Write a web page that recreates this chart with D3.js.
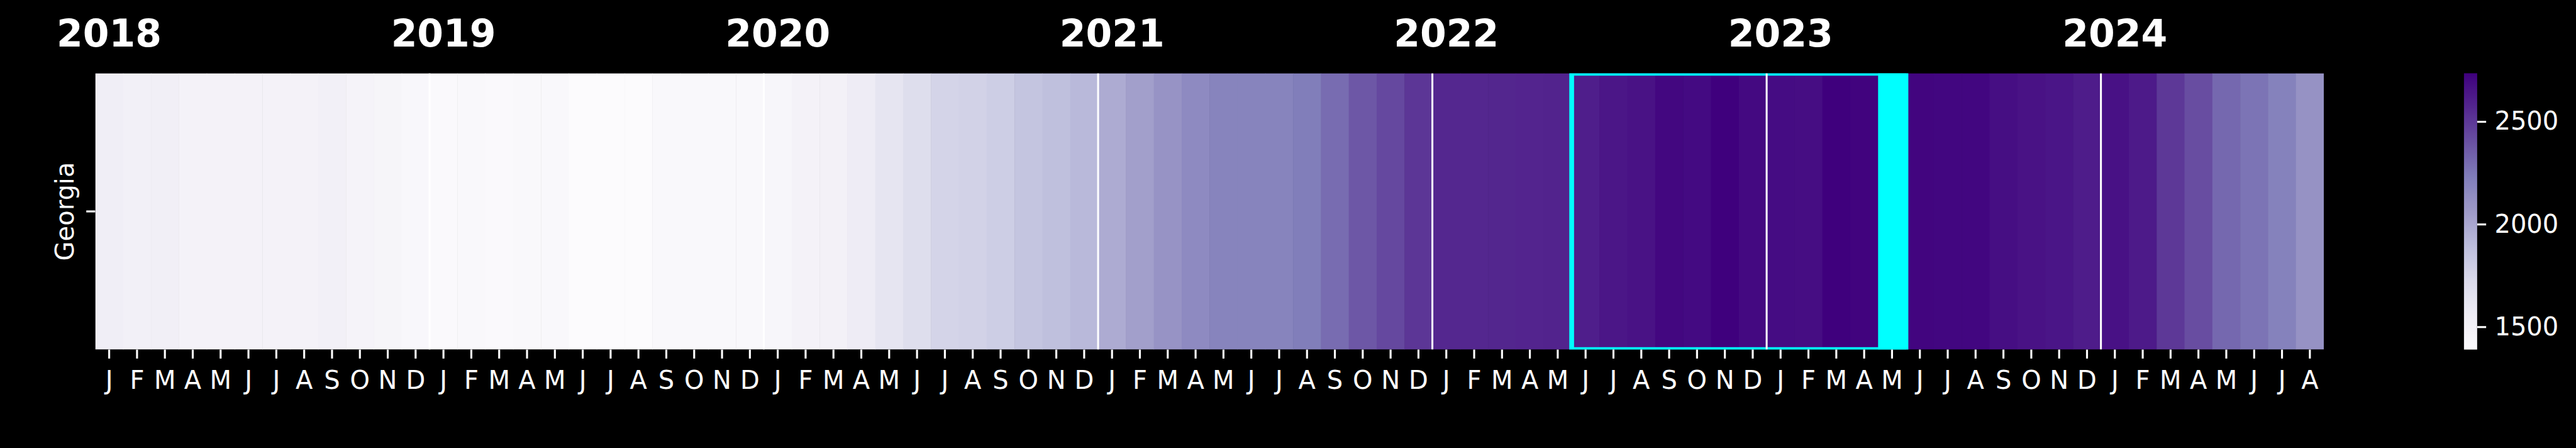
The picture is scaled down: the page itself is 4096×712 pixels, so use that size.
<!DOCTYPE html>
<html>
<head>
<meta charset="utf-8">
<script src="https://cdn.jsdelivr.net/npm/d3@7"></script>
<style>
  html, body { margin: 0; padding: 0; background: #000; }
  svg { display: block; }
  text { font-family: "DejaVu Sans", sans-serif; fill: #fff; }
</style>
</head>
<body>
<script>
// ---------- data ----------
const rowLabels = ["Georgia"];
const years = ["2018", "2019", "2020", "2021", "2022", "2023", "2024"];
const monthLetters = ["J","F","M","A","M","J","J","A","S","O","N","D"];
// monthly values Jan 2018 .. Aug 2024 (80 months); null = missing (May 2023)
const values2018 = [1544, 1518, 1531, 1493, 1493, 1493, 1493, 1493, 1518, 1483, 1467, 1441];
const values2019 = [1415, 1428, 1415, 1428, 1428, 1392, 1389, 1395, 1428, 1428, 1428, 1428];
const values2020 = [1454, 1493, 1505, 1565, 1630, 1693, 1759, 1770, 1798, 1848, 1877, 1911];
const values2021 = [1978, 2039, 2101, 2152, 2190, 2190, 2190, 2225, 2295, 2376, 2435, 2506];
const values2022 = [2565, 2568, 2572, 2578, 2584, 2606, 2641, 2657, 2704, 2692, 2735, 2697];
const values2023 = [2683, 2680, 2735, 2722, null, 2712, 2710, 2710, 2675, 2657, 2645, 2614];
const values2024 = [2660, 2623, 2499, 2415, 2311, 2264, 2202, 2107];
const colorTicks = [1500, 2000, 2500];
const vmin = 1389, vmax = 2735;
const highlightStart = 53, highlightEnd = 64; // Jun 2022 .. May 2023 (column indices)
const purples = ["#fcfbfd","#efedf5","#dadaeb","#bcbddc","#9e9ac8","#807dba","#6a51a3","#54278f","#3f007d"];

const values = [].concat(values2018, values2019, values2020, values2021, values2022, values2023, values2024);
const cells = values.map((v, i) => ({ i, v, year: 2018 + Math.floor(i / 12), m: i % 12 }));

// ---------- layout (reference pixel space 4300x747) ----------
const W = 4300, H = 747;
const L = 159, R = 3879, T = 122, B = 583;

const svg = d3.select("body").append("svg")
  .attr("width", 4096).attr("height", 712)
  .attr("viewBox", `0 0 ${W} ${H}`);

svg.append("rect").attr("width", W).attr("height", H).attr("fill", "#000");

const x = d3.scaleBand().domain(d3.range(values.length)).range([L, R]).paddingInner(0).paddingOuter(0);
const y = d3.scaleBand().domain(rowLabels).range([T, B]);
const color = d3.scaleLinear()
  .domain(purples.map((_, k) => vmin + k / (purples.length - 1) * (vmax - vmin)))
  .range(purples)
  .interpolate(d3.interpolateRgb)
  .clamp(true);

const defs = svg.append("defs");
defs.append("clipPath").attr("id", "axclip")
  .append("rect").attr("x", L).attr("y", T).attr("width", R - L).attr("height", B - T);

const plot = svg.append("g").attr("clip-path", "url(#axclip)");

// cells
plot.selectAll("rect.cell").data(cells).join("rect")
  .attr("class", "cell")
  .attr("x", d => x(d.i))
  .attr("y", y("Georgia"))
  .attr("width", x.bandwidth() + 0.6)
  .attr("height", y.bandwidth())
  .attr("fill", d => d.v == null ? "#00ffff" : color(d.v));

// highlight rectangle
plot.append("rect")
  .attr("x", x(highlightStart))
  .attr("y", T)
  .attr("width", x(highlightEnd) + x.bandwidth() - x(highlightStart))
  .attr("height", B - T)
  .attr("fill", "none")
  .attr("stroke", "#00ffff")
  .attr("stroke-width", 8);

// year separator lines
plot.selectAll("line.yr").data(d3.range(1, years.length)).join("line")
  .attr("class", "yr")
  .attr("x1", k => x(k * 12)).attr("x2", k => x(k * 12))
  .attr("y1", T).attr("y2", B)
  .attr("stroke", "#fff").attr("stroke-width", 3.2);

// x axis (month letters)
const xAxis = d3.axisBottom(x).tickSize(15).tickFormat(i => monthLetters[i % 12]);
const gx = svg.append("g").attr("transform", `translate(0,${B})`).call(xAxis);
gx.select(".domain").remove();
gx.selectAll(".tick line").attr("stroke", "#fff").attr("stroke-width", 3.3);
gx.selectAll(".tick text")
  .attr("y", 66).attr("dy", 0)
  .attr("fill", "#fff")
  .style("font-size", "42px")
  .style("font-family", "'DejaVu Sans', sans-serif");

// y axis
const yAxis = d3.axisLeft(y).tickSize(15).tickFormat(() => "");
const gy = svg.append("g").attr("transform", `translate(${L},0)`).call(yAxis);
gy.select(".domain").remove();
gy.selectAll(".tick line").attr("stroke", "#fff").attr("stroke-width", 3.3);
svg.append("text")
  .attr("transform", `translate(123,${y("Georgia") + y.bandwidth() / 2}) rotate(-90)`)
  .attr("text-anchor", "middle")
  .style("font-size", "42px")
  .text("Georgia");

// year labels
svg.selectAll("text.year").data(years).join("text")
  .attr("class", "year")
  .attr("x", (d, k) => x(k * 12) + x.bandwidth() / 2)
  .attr("y", 77.7)
  .attr("text-anchor", "middle")
  .style("font-size", "63px")
  .style("font-weight", "bold")
  .text(d => d);

// colorbar
const CBL = 4113, CBR = 4135;
const cy = d3.scaleLinear().domain([vmin, vmax]).range([B, T]);
const grad = defs.append("linearGradient").attr("id", "cbgrad")
  .attr("x1", 0).attr("y1", 1).attr("x2", 0).attr("y2", 0);
d3.range(0, 1.0001, 1 / 64).forEach(t => {
  grad.append("stop").attr("offset", t).attr("stop-color", color(vmin + t * (vmax - vmin)));
});
svg.append("rect")
  .attr("x", CBL).attr("y", T).attr("width", CBR - CBL).attr("height", B - T)
  .attr("fill", "url(#cbgrad)");
const cAxis = d3.axisRight(cy).tickValues(colorTicks).tickSize(15).tickPadding(14).tickFormat(d3.format("d"));
const gc = svg.append("g").attr("transform", `translate(${CBR},0)`).call(cAxis);
gc.select(".domain").remove();
gc.selectAll(".tick line").attr("stroke", "#fff").attr("stroke-width", 3.3);
gc.selectAll(".tick text")
  .attr("fill", "#fff")
  .style("font-size", "42px")
  .style("font-family", "'DejaVu Sans', sans-serif");
</script>
</body>
</html>
